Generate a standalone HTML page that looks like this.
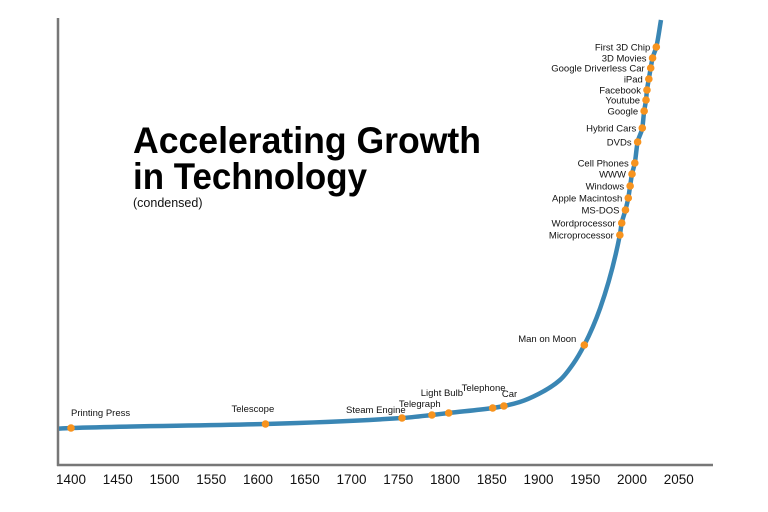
<!DOCTYPE html>
<html><head><meta charset="utf-8"><style>
html,body{margin:0;padding:0;background:#fff;}
svg{display:block;font-family:"Liberation Sans",sans-serif;}
</style></head><body>
<svg id="chart" width="768" height="512" viewBox="0 0 768 512">
<defs><clipPath id="plotclip"><rect x="59" y="0" width="700" height="464"/></clipPath></defs>
<line x1="58" y1="18" x2="58" y2="466" stroke="#777" stroke-width="2.5"/>
<line x1="57" y1="465" x2="713" y2="465" stroke="#777" stroke-width="2.5"/>
<g>
<text x="133" y="153" font-size="37" font-weight="bold" textLength="348" lengthAdjust="spacingAndGlyphs" fill="#000">Accelerating Growth</text>
<text x="133" y="189" font-size="37" font-weight="bold" textLength="234" lengthAdjust="spacingAndGlyphs" fill="#000">in Technology</text>
<text x="133" y="207" font-size="12.5" fill="#111">(condensed)</text>
</g>
<g id="ticks"></g>
<path id="curve" clip-path="url(#plotclip)" fill="none" stroke="#3a86b4" stroke-width="4.5"/>
<g id="dots"></g>
</svg>
<script>
const tickYears = [1400,1450,1500,1550,1600,1650,1700,1750,1800,1850,1900,1950,2000,2050];
const eventNames = ["Printing Press","Telescope","Steam Engine","Telegraph","Light Bulb","Telephone","Car","Man on Moon","Microprocessor","Wordprocessor","MS-DOS","Apple Macintosh","Windows","WWW","Cell Phones","DVDs","Hybrid Cars","Google","Youtube","Facebook","iPad","Google Driverless Car","3D Movies","First 3D Chip"];
const eventYears = [1400,1608,1754,1786,1804,1851,1863,1949,1987,1989,1993,1996,1998,2000,2003,2006,2011,2013,2015,2016,2018,2020,2022,2026];
const eventValues = [2,6,12,15,17,22,24,85,195,207,220,232,244,256,267,288,302,319,330,340,351,362,372,383];
const curveYears = [1380,1880,1900,1923,1937,1966,2031];
const curveValues = [1,28,36,50,66,122,410];

const X0=71, KX=0.935, Y0=430;
function xs(y){return X0+(y-1400)*KX;}
function ys(v){return Y0-v;}
const NS="http://www.w3.org/2000/svg";

const tg=document.getElementById('ticks');
tickYears.forEach(t=>{
  const e=document.createElementNS(NS,'text');
  
  
  e.setAttribute('x',xs(t));e.setAttribute('y',484);
  e.setAttribute('text-anchor','middle');e.setAttribute('font-size','13.5');e.setAttribute('fill','#111');
  e.textContent=t;tg.appendChild(e);
});

let raw=eventYears.map((y,i)=>[y,eventValues[i]]);
curveYears.forEach((y,i)=>raw.push([y,curveValues[i]]));
raw.sort((a,b)=>a[0]-b[0]);
const pts=[];
raw.forEach(p=>{if(!pts.length||p[0]>pts[pts.length-1][0])pts.push(p);});
const n=pts.length, dk=[], m=[];
for(let i=0;i<n-1;i++)dk.push((pts[i+1][1]-pts[i][1])/(pts[i+1][0]-pts[i][0]));
m[0]=dk[0];m[n-1]=dk[n-2];
for(let i=1;i<n-1;i++){
  if(dk[i-1]*dk[i]<=0)m[i]=0;
  else{const h0=pts[i][0]-pts[i-1][0],h1=pts[i+1][0]-pts[i][0];
    const w1=2*h1+h0,w2=h1+2*h0;m[i]=(w1+w2)/(w1/dk[i-1]+w2/dk[i]);}
}
let d="M"+xs(pts[0][0])+","+ys(pts[0][1]);
for(let i=0;i<n-1;i++){
  const h=pts[i+1][0]-pts[i][0];
  const c1y=pts[i][1]+m[i]*h/3, c2y=pts[i+1][1]-m[i+1]*h/3;
  d+=` C${xs(pts[i][0]+h/3)},${ys(c1y)} ${xs(pts[i+1][0]-h/3)},${ys(c2y)} ${xs(pts[i+1][0])},${ys(pts[i+1][1])}`;
}
document.getElementById('curve').setAttribute('d',d);

const dg=document.getElementById('dots');
const above={"Printing Press":[0,-12,'start'],"Telescope":[-34,-12,'start'],"Steam Engine":[-56,-5,'start'],"Telegraph":[-33,-8,'start'],"Light Bulb":[-28,-17,'start'],"Telephone":[-31,-17,'start'],"Car":[-2,-9,'start']};
eventNames.forEach((nm,i)=>{
  const cx=xs(eventYears[i]),cy=ys(eventValues[i]);
  const c=document.createElementNS(NS,'circle');
  
  
  c.setAttribute('cx',cx);c.setAttribute('cy',cy);c.setAttribute('r',3.8);c.setAttribute('fill','#f7931e');
  dg.appendChild(c);
  const t=document.createElementNS(NS,'text');
  
  
  let dx=-6,dy=3.5,anc='end';
  if(nm==="Man on Moon"){dx=-8;dy=-3;}
  if(above[nm]){[dx,dy,anc]=above[nm];}
  t.setAttribute('x',cx+dx);t.setAttribute('y',cy+dy);t.setAttribute('text-anchor',anc);
  t.setAttribute('font-size','9.5');t.setAttribute('fill','#111');
  t.textContent=nm;dg.appendChild(t);
});
</script>
</body></html>
